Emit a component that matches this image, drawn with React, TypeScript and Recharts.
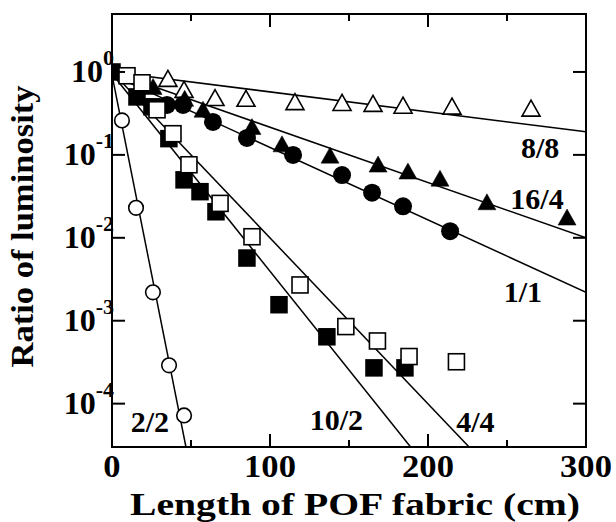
import React from 'react';
import { ComposedChart, XAxis, YAxis, Line, Scatter, ReferenceDot } from 'recharts';

const FONT = '"Liberation Serif", "Times New Roman", serif';

// axis ticks
const xTicks = [0, 50, 100, 150, 200, 250, 300];
const yTicks = [1e-4, 1e-3, 1e-2, 1e-1, 1];
const xMax = 300;
const yMin = 3e-5;
const yMax = 5;

// 2/2 (open circles)
const x22 = [6.3, 15.2, 25.9, 36.1, 45.6];
const y22 = [0.26, 0.023, 2.2e-3, 2.9e-4, 7.2e-5];
// 10/2 (filled squares)
const x102 = [0, 15.8, 25.3, 36, 45.6, 55.7, 65.8, 85.4, 105.7, 136, 165.8, 185.4];
const y102 = [1.0, 0.5, 0.38, 0.157, 0.05, 0.036, 0.0206, 5.7e-3, 1.56e-3, 6.4e-4, 2.7e-4, 2.7e-4];
// 4/4 (open squares)
const x44 = [9.5, 19, 28.5, 38.6, 48.7, 68.4, 88.6, 119, 148, 168, 188, 218];
const y44 = [0.9, 0.74, 0.35, 0.18, 0.076, 0.026, 0.0103, 2.7e-3, 8.5e-4, 5.7e-4, 3.7e-4, 3.2e-4];
// 1/1 (filled circles)
const x11 = [34.8, 45, 63.9, 85.4, 114.6, 145.6, 164.6, 184.2, 214];
const y11 = [0.4, 0.4, 0.25, 0.16, 0.1, 0.057, 0.035, 0.024, 0.012];
// 16/4 (filled triangles)
const x164 = [26, 46, 57.6, 88.6, 107.6, 138, 168.4, 187.3, 207.6, 237.3, 288];
const y164 = [0.64, 0.46, 0.34, 0.21, 0.13, 0.095, 0.074, 0.061, 0.05, 0.026, 0.017];
// 8/8 (open triangles)
const x88 = [35.4, 45.6, 65.2, 84.8, 115.8, 145.6, 165.2, 184.2, 215.2, 265.2];
const y88 = [0.8, 0.59, 0.47, 0.46, 0.42, 0.41, 0.4, 0.38, 0.37, 0.35];

// fitted lines (end points)
const fit88 = { x: [0, 300], y: [1.0, 0.19] };
const fit164 = { x: [0, 300], y: [1.0, 0.01] };
const fit11 = { x: [0, 300], y: [0.92, 0.0022] };
const fit44 = { x: [0, 226], y: [1.0, 3e-5] };
const fit102 = { x: [0, 189], y: [0.95, 3e-5] };
const fit22 = { x: [0, 46.8], y: [0.92, 3e-5] };

// curve labels
const labelText = ['8/8', '16/4', '1/1', '10/2', '4/4', '2/2'];
const labelX = [271, 269, 260, 142, 230, 24];
const labelY = [0.121, 0.029, 2.24e-3, 6.4e-5, 6.0e-5, 6.0e-5];

// plot box inside the 616x522 chart
const W = 616, H = 522;
const M = { top: 14, right: 30, left: 112, bottom: 75 };
const plotL = M.left, plotT = M.top, plotR = W - M.right, plotB = H - M.bottom;

const pts = (xs: number[], ys: number[]) => xs.map((x, i) => ({ x, y: ys[i] }));

const sq = (filled: boolean) => (p: any) => {
  const s = filled ? 17.5 : 16;
  return (
    <rect x={p.cx - s / 2} y={p.cy - s / 2} width={s} height={s}
      fill={filled ? '#000' : '#fff'} stroke="#000" strokeWidth={filled ? 0 : 1.6} />
  );
};
const circ = (filled: boolean) => (p: any) => (
  <circle cx={p.cx} cy={p.cy} r={filled ? 9 : 7.3}
    fill={filled ? '#000' : '#fff'} stroke="#000" strokeWidth={filled ? 0 : 1.6} />
);
const tri = (filled: boolean) => (p: any) => {
  const w = 18, h = 16;
  const d = `M${p.cx},${p.cy - h * 0.6} L${p.cx + w / 2},${p.cy + h * 0.4} L${p.cx - w / 2},${p.cy + h * 0.4} Z`;
  return <path d={d} fill={filled ? '#000' : '#fff'} stroke="#000" strokeWidth={filled ? 0.5 : 1.6} />;
};

const txt = { fontFamily: FONT, fontWeight: 700 };

const BottomTick = (props: any) => {
  const { x, y, payload } = props;
  const v = payload.value;
  if (v % 100 !== 0) return <g />;
  return (
    <text x={x} y={y + 30} textAnchor="middle" style={txt}
      fontSize={31} textLength={17.3 * String(v).length} lengthAdjust="spacingAndGlyphs">{v}</text>
  );
};

const LeftTick = (props: any) => {
  const { x, y, payload } = props;
  const e = Math.round(Math.log10(payload.value));
  return (
    <text x={x + 2} y={y + 10} textAnchor="end" style={txt} fontSize={32}>
      10<tspan dy={-17} fontSize={22}>{e === 0 ? '0' : '-' + -e}</tspan>
    </text>
  );
};

const XTitle = (props: any) => {
  const { x, y, width } = props.viewBox;
  return (
    <text x={x + width / 2 + 6} y={y + 68} textAnchor="middle" style={txt}
      fontSize={31} textLength={450} lengthAdjust="spacingAndGlyphs">Length of POF fabric (cm)</text>
  );
};

const YTitle = (props: any) => {
  const { y, height } = props.viewBox;
  const cy = y + height / 2 - 4;
  return (
    <text x={33} y={cy} transform={`rotate(-90, 33, ${cy})`} textAnchor="middle" style={txt}
      fontSize={31} textLength={282} lengthAdjust="spacingAndGlyphs">Ratio of luminosity</text>
  );
};

// frame with inward ticks on all four sides (same mapping as the chart axes)
const Frame = () => {
  const sx = (v: number) => plotL + (v / xMax) * (plotR - plotL);
  const ly = (v: number) =>
    plotT + ((Math.log10(yMax) - Math.log10(v)) / (Math.log10(yMax) - Math.log10(yMin))) * (plotB - plotT);
  const s = { stroke: '#000', strokeWidth: 2 };
  return (
    <svg width={W} height={H} style={{ position: 'absolute', left: 0, top: 0, pointerEvents: 'none' }}>
      <rect x={plotL} y={plotT} width={plotR - plotL} height={plotB - plotT} fill="none" {...s} />
      {xTicks.slice(1, -1).map((t) => {
        const len = t % 100 === 0 ? 13 : 7;
        return (
          <g key={'x' + t}>
            <line x1={sx(t)} y1={plotB} x2={sx(t)} y2={plotB - len} {...s} />
            <line x1={sx(t)} y1={plotT} x2={sx(t)} y2={plotT + len} {...s} />
          </g>
        );
      })}
      {yTicks.map((t) => (
        <g key={'y' + t}>
          <line x1={plotL} y1={ly(t)} x2={plotL + 13} y2={ly(t)} {...s} />
          <line x1={plotR} y1={ly(t)} x2={plotR - 13} y2={ly(t)} {...s} />
        </g>
      ))}
    </svg>
  );
};

const fits = [fit88, fit164, fit11, fit44, fit102, fit22];

export default function App() {
  const axisLine = { stroke: '#000', strokeWidth: 2 };
  return (
    <div style={{ position: 'absolute', left: 0, top: 0, width: W, height: H, background: '#fff' }}>
      <ComposedChart width={W} height={H} margin={{ top: M.top, right: M.right, bottom: 0, left: 0 }}>
        <XAxis type="number" dataKey="x" domain={[0, xMax]} ticks={xTicks} interval={0} allowDataOverflow
          height={M.bottom} tickSize={0} tickMargin={0} tickLine={false} axisLine={axisLine} tick={<BottomTick />}
          label={<XTitle />} />
        <YAxis type="number" dataKey="y" scale="log" domain={[yMin, yMax]} ticks={yTicks} interval={0} allowDataOverflow
          width={M.left} tickSize={0} tickMargin={0} tickLine={false} axisLine={axisLine} tick={<LeftTick />}
          label={<YTitle />} />

        {fits.map((f, i) => (
          <Line key={'fit' + i} data={pts(f.x, f.y)} dataKey="y" stroke="#000" strokeWidth={1.5}
            dot={false} activeDot={false} isAnimationActive={false} />
        ))}

        <Scatter data={pts(x88, y88)} shape={tri(false)} isAnimationActive={false} />
        <Scatter data={pts(x164, y164)} shape={tri(true)} isAnimationActive={false} />
        <Scatter data={pts(x11, y11)} shape={circ(true)} isAnimationActive={false} />
        <Scatter data={pts(x102, y102)} shape={sq(true)} isAnimationActive={false} />
        <Scatter data={pts(x44, y44)} shape={sq(false)} isAnimationActive={false} />
        <Scatter data={pts(x22, y22)} shape={circ(false)} isAnimationActive={false} />

        {labelText.map((t, i) => (
          <ReferenceDot key={t} x={labelX[i]} y={labelY[i]} r={0}
            shape={(p: any) => (
              <text x={p.cx} y={p.cy + 10} textAnchor="middle" style={txt} fontSize={30}>{t}</text>
            )} />
        ))}
      </ComposedChart>
      <Frame />
    </div>
  );
}
